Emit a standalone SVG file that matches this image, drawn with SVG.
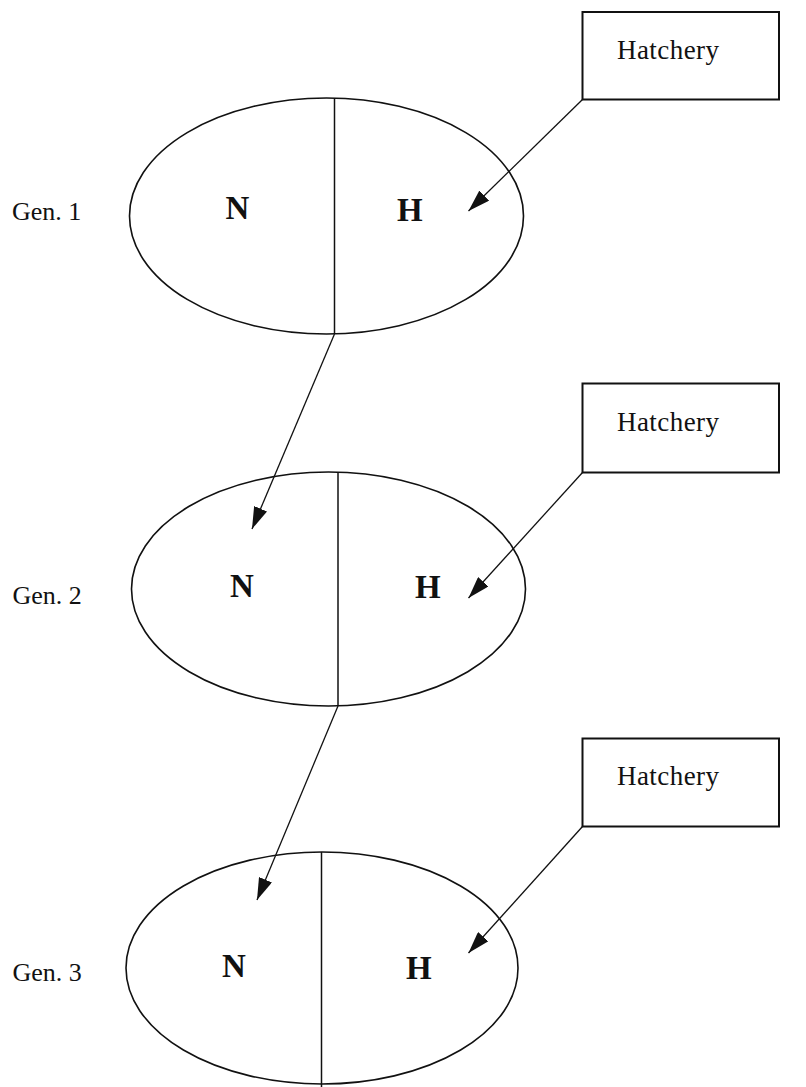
<svg xmlns="http://www.w3.org/2000/svg" width="806" height="1087" viewBox="0 0 806 1087">
<style>
.pop{fill:none;stroke:#111;stroke-width:1.6}
.div{stroke:#111;stroke-width:1.5}
.box{fill:#fff;stroke:#111;stroke-width:2}
.lbl{font-family:"Liberation Serif","Times New Roman",serif;font-size:26px;fill:#111}
.hat{font-family:"Liberation Serif","Times New Roman",serif;font-size:27px;fill:#111}
.big{font-family:"Liberation Serif","Times New Roman",serif;font-size:33px;font-weight:bold;fill:#111}
.con{stroke:#111;stroke-width:1.3;fill:none;marker-end:url(#ah)}
</style>
<defs>
<marker id="ah" markerUnits="userSpaceOnUse" markerWidth="22" markerHeight="14" viewBox="0 0 22 14" refX="22" refY="7" orient="auto">
<path d="M0,0 L22,7 L0,14 z" fill="#111"/>
</marker>
</defs>
<rect width="806" height="1087" fill="#fff"/>
<g id="gen1">
<ellipse class="pop" cx="326.5" cy="216" rx="197" ry="118"/>
<line class="div" x1="334.5" y1="98" x2="334.5" y2="334"/>
<text class="lbl" x="12" y="220">Gen. 1</text>
<text class="big" x="225.5" y="218.5">N</text>
<text class="big" x="397" y="220.5">H</text>
</g>
<g id="gen2">
<ellipse class="pop" cx="328.5" cy="589" rx="197" ry="117"/>
<line class="div" x1="338" y1="472" x2="338" y2="706"/>
<text class="lbl" x="12.5" y="604">Gen. 2</text>
<text class="big" x="230" y="597">N</text>
<text class="big" x="415" y="597.5">H</text>
</g>
<g id="gen3">
<ellipse class="pop" cx="322" cy="968" rx="196" ry="116"/>
<line class="div" x1="321.5" y1="852" x2="321.5" y2="1087"/>
<text class="lbl" x="12.5" y="981">Gen. 3</text>
<text class="big" x="222" y="977">N</text>
<text class="big" x="406" y="978.5">H</text>
</g>
<g id="hatchery1">
<rect class="box" x="582.5" y="12" width="196.5" height="87.5"/>
<text class="hat" x="617" y="59" textLength="102" lengthAdjust="spacing">Hatchery</text>
</g>
<g id="hatchery2">
<rect class="box" x="582.5" y="383.5" width="196.5" height="89"/>
<text class="hat" x="617" y="431" textLength="102" lengthAdjust="spacing">Hatchery</text>
</g>
<g id="hatchery3">
<rect class="box" x="582.5" y="738.5" width="196.5" height="88"/>
<text class="hat" x="617" y="785" textLength="102" lengthAdjust="spacing">Hatchery</text>
</g>
<g id="connectors">
<line class="con" x1="582.5" y1="99.5" x2="468.5" y2="211"/>
<line class="con" x1="334.5" y1="334" x2="252" y2="529"/>
<line class="con" x1="582.5" y1="472.5" x2="468.5" y2="598"/>
<line class="con" x1="338" y1="706" x2="257" y2="900"/>
<line class="con" x1="582.5" y1="826.5" x2="468.5" y2="953"/>
</g>
</svg>
